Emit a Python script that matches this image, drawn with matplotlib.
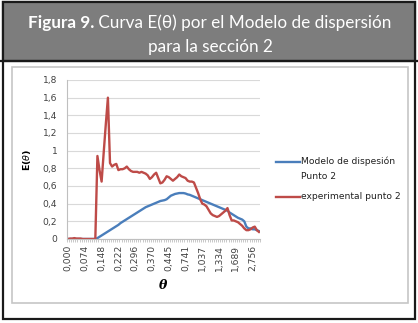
import matplotlib
matplotlib.use('Agg')
import matplotlib.pyplot as plt
import numpy as np
from matplotlib.patches import Rectangle
from matplotlib.lines import Line2D

# theta values (categories of the Excel line chart)
theta = [0.000, 0.009, 0.019, 0.028, 0.037, 0.046, 0.056, 0.065, 0.074, 0.083,
         0.093, 0.102, 0.111, 0.120, 0.130, 0.139, 0.148, 0.157, 0.167, 0.176,
         0.185, 0.194, 0.204, 0.213, 0.222, 0.231, 0.241, 0.250, 0.259, 0.269,
         0.278, 0.287, 0.296, 0.306, 0.315, 0.324, 0.333, 0.343, 0.352, 0.361,
         0.370, 0.380, 0.389, 0.398, 0.407, 0.417, 0.426, 0.435, 0.445, 0.482,
         0.519, 0.556, 0.593, 0.630, 0.667, 0.704, 0.741, 0.778, 0.815, 0.852,
         0.889, 0.926, 0.963, 1.000, 1.037, 1.074, 1.111, 1.149, 1.186, 1.223,
         1.260, 1.297, 1.334, 1.378, 1.423, 1.467, 1.512, 1.556, 1.600, 1.645,
         1.689, 1.823, 1.956, 2.089, 2.223, 2.356, 2.489, 2.623, 2.756, 2.889,
         3.023, 3.156]

# modelo de dispersion (blue)
modelo = [0, 0, 0, 0, 0, 0, 0, 0, 0, 0,
          0, 0, 0, 0.00, 0.01, 0.025, 0.04, 0.055, 0.07, 0.085,
          0.10, 0.115, 0.13, 0.145, 0.16, 0.18, 0.195, 0.21, 0.225, 0.24,
          0.255, 0.27, 0.285, 0.30, 0.315, 0.33, 0.345, 0.36, 0.37, 0.38,
          0.39, 0.40, 0.41, 0.42, 0.43, 0.435, 0.44, 0.45, 0.47, 0.49,
          0.50, 0.51, 0.515, 0.52, 0.52, 0.52, 0.515, 0.505, 0.50, 0.49,
          0.48, 0.47, 0.46, 0.45, 0.44, 0.43, 0.42, 0.41, 0.40, 0.39,
          0.38, 0.37, 0.36, 0.35, 0.34, 0.33, 0.32, 0.30, 0.285, 0.27,
          0.255, 0.24, 0.23, 0.22, 0.20, 0.14, 0.12, 0.12, 0.11, 0.11,
          0.10, 0.09]

# experimental (red)
experimental = [0, 0.005, 0.005, 0.01, 0.005, 0.005, 0.005, 0, 0, 0,
                0, 0, 0, 0, 0.94, 0.78, 0.65, 0.98, 1.30, 1.60,
                0.86, 0.82, 0.84, 0.85, 0.78, 0.79, 0.79, 0.80, 0.82, 0.79,
                0.77, 0.76, 0.76, 0.76, 0.75, 0.76, 0.75, 0.74, 0.72, 0.68,
                0.70, 0.73, 0.75, 0.69, 0.63, 0.64, 0.67, 0.71, 0.70, 0.68,
                0.66, 0.68, 0.70, 0.73, 0.71, 0.70, 0.69, 0.66, 0.65, 0.65,
                0.64, 0.58, 0.52, 0.45, 0.40, 0.39, 0.37, 0.33, 0.29, 0.27,
                0.26, 0.25, 0.26, 0.28, 0.30, 0.32, 0.35, 0.27, 0.21, 0.21,
                0.20, 0.19, 0.17, 0.15, 0.12, 0.10, 0.10, 0.11, 0.13, 0.14,
                0.10, 0.08]

BLUE = '#4a7ebb'
RED = '#be4b48'

W, H = 418, 323
fig = plt.figure(figsize=(W / 100, H / 100), dpi=100)

def fx(x):
    return x / W

def fy(y):
    return 1 - y / H

# outer frame, header and chart box
fig.patches.append(Rectangle((fx(3), fy(319)), fx(412), 317 / H, transform=fig.transFigure,
                             facecolor='white', edgecolor='#1a1a1a', lw=1.6, zorder=0))
fig.patches.append(Rectangle((fx(3), fy(60.5)), fx(412), 58.5 / H, transform=fig.transFigure,
                             facecolor='#7d7d7d', edgecolor='#1a1a1a', lw=1.6, zorder=1))
fig.lines.append(Line2D([fx(1), fx(417)], [fy(60.5), fy(60.5)], transform=fig.transFigure,
                        color='#1a1a1a', lw=1.6))
fig.patches.append(Rectangle((fx(12), fy(302.5)), fx(395.5), 235.5 / H, transform=fig.transFigure,
                             facecolor='white', edgecolor='#c6c6c6', lw=1.2, zorder=1))

# header text: bold part + regular part, centred together
hfont = 'Lato'
hsize = 12.3
t1 = fig.text(0, fy(23), 'Figura 9.', family=hfont, weight='bold', fontsize=hsize,
              color='white', va='center')
t2 = fig.text(0, fy(23), ' Curva E(θ) por el Modelo de dispersión', family=hfont,
              fontsize=hsize, color='white', va='center')
fig.canvas.draw()
r = fig.canvas.get_renderer()
w1 = t1.get_window_extent(r).width
w2 = t2.get_window_extent(r).width
x0 = 210 - (w1 + w2) / 2
t1.set_x(fx(x0))
t2.set_x(fx(x0 + w1))
fig.text(fx(210), fy(47), 'para la sección 2', family=hfont, fontsize=hsize,
         color='white', ha='center', va='center')

# chart
ax = fig.add_axes([fx(67), fy(239), fx(193), 159 / H])
ax.set_zorder(3)
ax.patch.set_alpha(0)
xs = np.arange(len(theta))
ax.plot(xs, modelo, color=BLUE, lw=1.7)
ax.plot(xs, experimental, color=RED, lw=1.7)

ax.set_xlim(-0.5, len(theta) - 0.5)
ax.set_ylim(0, 1.8)
ax.set_yticks(np.arange(0, 1.81, 0.2))
ax.set_yticklabels(['0', '0,2', '0,4', '0,6', '0,8', '1', '1,2', '1,4', '1,6', '1,8'])
ax.set_xticks(xs[::8])
ax.set_xticklabels([f'{t:.3f}'.replace('.', ',') for t in theta[::8]], rotation=90)
ax.set_xticks(np.arange(-0.5, len(theta)), minor=True)
ax.tick_params(axis='x', which='major', length=0, pad=4, labelsize=6.6, colors='#404040')
ax.tick_params(axis='x', which='minor', length=2.5, width=0.6, color='#bfbfbf')
ax.tick_params(axis='y', length=0, pad=7, labelsize=6.6, colors='#404040')
ax.grid(axis='y', color='#d9d9d9', lw=0.8)
ax.set_axisbelow(True)
for s in ['top', 'right']:
    ax.spines[s].set_visible(False)
for s in ['left', 'bottom']:
    ax.spines[s].set_color('#bfbfbf')
    ax.spines[s].set_linewidth(0.8)

ax.set_ylabel(r'E($\theta$)', fontsize=6.8, weight='bold', labelpad=7)
ax.set_xlabel('θ', fontsize=9, weight='bold', style='italic', family='DejaVu Serif', labelpad=6)

# legend drawn Excel-style: key line aligned with the first text line
lsize = 6.6
fig.lines.append(Line2D([fx(276), fx(300)], [fy(162), fy(162)], transform=fig.transFigure,
                        color=BLUE, lw=1.7))
fig.text(fx(301), fy(161.5), 'Modelo de dispesión', fontsize=lsize, va='center', color='#202020')
fig.text(fx(301), fy(176.5), 'Punto 2', fontsize=lsize, va='center', color='#202020')
fig.lines.append(Line2D([fx(276), fx(300)], [fy(197), fy(197)], transform=fig.transFigure,
                        color=RED, lw=1.7))
fig.text(fx(301), fy(196.5), 'experimental punto 2', fontsize=lsize, va='center', color='#202020')

fig.savefig('out.png', dpi=100)
